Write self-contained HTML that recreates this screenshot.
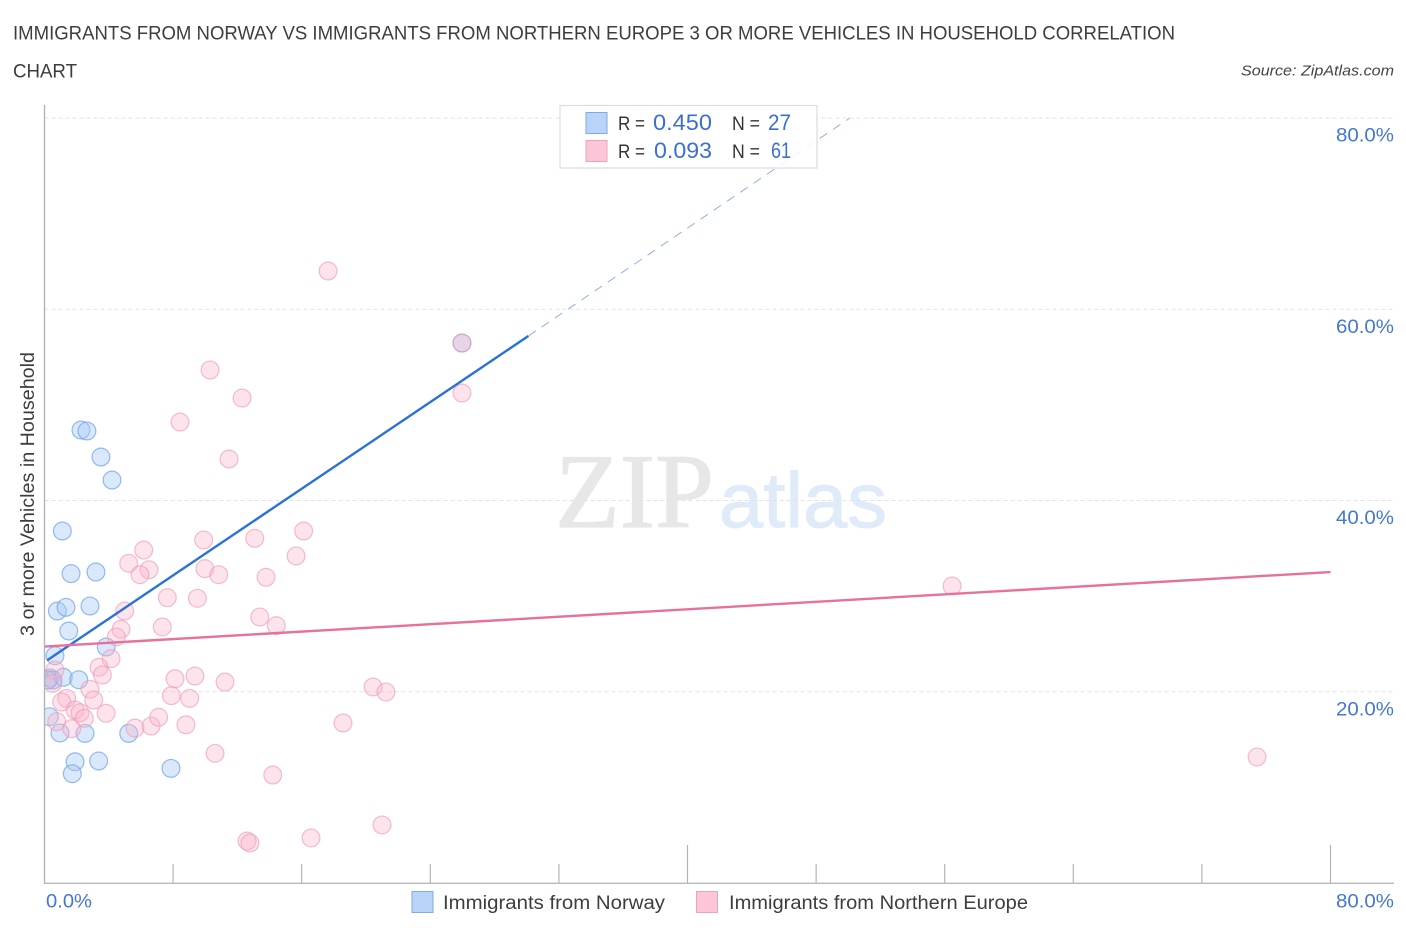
<!DOCTYPE html>
<html lang="en">
<head>
<meta charset="utf-8">
<title>Immigrants from Norway vs Immigrants from Northern Europe Correlation Chart</title>
<style>
html,body{margin:0;padding:0;background:#fff;width:1406px;height:930px;overflow:hidden}
svg{display:block}
text{font-family:"Liberation Sans",sans-serif}
</style>
</head>
<body>
<svg id="chart" width="1406" height="930" viewBox="0 0 1406 930" xmlns="http://www.w3.org/2000/svg">
  <defs><clipPath id="plot-clip"><rect x="44.5" y="100" width="1350" height="783"/></clipPath></defs>
  <rect width="1406" height="930" fill="#fff"/>
  <text x="13" y="39.5" font-size="19" fill="#3d3d3d" textLength="1162" lengthAdjust="spacingAndGlyphs">IMMIGRANTS FROM NORWAY VS IMMIGRANTS FROM NORTHERN EUROPE 3 OR MORE VEHICLES IN HOUSEHOLD CORRELATION</text>
  <text x="13" y="77.5" font-size="19" fill="#3d3d3d" textLength="64" lengthAdjust="spacingAndGlyphs">CHART</text>
  <text x="1241" y="75.5" font-size="15" font-style="italic" fill="#444" textLength="153" lengthAdjust="spacingAndGlyphs">Source: ZipAtlas.com</text>

  <g>
    <text x="555" y="527" font-size="106" fill="#e7e7e7" stroke="#e7e7e7" stroke-width="1.2" textLength="159" lengthAdjust="spacingAndGlyphs" style="font-family:'Liberation Serif',serif">ZIP</text>
    <text x="719" y="527" font-size="78" fill="#e0ebfa" stroke="#e0ebfa" stroke-width="1" textLength="168" lengthAdjust="spacingAndGlyphs">atlas</text>
  </g>

  <g id="grid"></g>
  <g id="points" clip-path="url(#plot-clip)"></g>
  <g id="lines"></g>
  <g id="axes"></g>
  <g id="ylabels"></g>

  <text transform="translate(34,636) rotate(-90)" font-size="19" fill="#3d3d3d" textLength="284" lengthAdjust="spacingAndGlyphs">3 or more Vehicles in Household</text>
  <text x="46" y="907.5" font-size="19" fill="#4477d4" textLength="46" lengthAdjust="spacingAndGlyphs">0.0%</text>
  <text x="1336" y="907.5" font-size="19" fill="#4477d4" textLength="58" lengthAdjust="spacingAndGlyphs">80.0%</text>

  <g>
    <rect x="560" y="105.5" width="257" height="62.5" fill="#fff" fill-opacity="0.88" stroke="#dcdcdc" stroke-width="1.2"/>
    <rect x="586" y="112.5" width="21" height="21" fill="#b9d4f9" stroke="#7faae6" stroke-width="1"/>
    <rect x="586" y="140.5" width="21" height="21" fill="#fdc6d8" stroke="#eea3bc" stroke-width="1"/>
    <text x="618" y="130" font-size="19" fill="#333" textLength="27" lengthAdjust="spacingAndGlyphs">R =</text>
    <text x="653" y="130" font-size="22" fill="#3b6fd1" textLength="59" lengthAdjust="spacingAndGlyphs">0.450</text>
    <text x="732" y="130" font-size="19" fill="#333" textLength="28" lengthAdjust="spacingAndGlyphs">N =</text>
    <text x="768" y="130" font-size="22" fill="#3b6fd1" textLength="23" lengthAdjust="spacingAndGlyphs">27</text>
    <text x="618" y="158" font-size="19" fill="#333" textLength="27" lengthAdjust="spacingAndGlyphs">R =</text>
    <text x="654" y="158" font-size="22" fill="#3b6fd1" textLength="58" lengthAdjust="spacingAndGlyphs">0.093</text>
    <text x="732" y="158" font-size="19" fill="#333" textLength="28" lengthAdjust="spacingAndGlyphs">N =</text>
    <text x="771" y="158" font-size="22" fill="#3b6fd1" textLength="20" lengthAdjust="spacingAndGlyphs">61</text>
  </g>

  <g>
    <rect x="412" y="891.5" width="21" height="21" fill="#b9d4f9" stroke="#7faae6" stroke-width="1"/>
    <text x="443" y="909" font-size="19" fill="#3d3d3d" textLength="222" lengthAdjust="spacingAndGlyphs">Immigrants from Norway</text>
    <rect x="696.5" y="891.5" width="21" height="21" fill="#fdc6d8" stroke="#eea3bc" stroke-width="1"/>
    <text x="729" y="909" font-size="19" fill="#3d3d3d" textLength="299" lengthAdjust="spacingAndGlyphs">Immigrants from Northern Europe</text>
  </g>
</svg>
<script>
const yTickValues = [20, 40, 60, 80];
const yTickLabels = ["20.0%", "40.0%", "60.0%", "80.0%"];
const xTickValues = [8, 16, 24, 32, 40, 48, 56, 64, 72, 80];
const xMajorTicks = [40, 80];

const norwayX = [1.11,1.65,3.20,0.80,1.34,2.83,1.51,3.84,0.65,0.34,0.53,0.22,1.17,2.13,0.30,0.96,2.52,5.24,1.90,3.37,1.73,7.87,2.27,2.64,3.51,4.20,25.97];
const norwayY = [36.81,32.35,32.52,28.44,28.83,28.97,26.35,24.68,23.77,21.44,21.23,21.23,21.51,21.26,17.39,15.69,15.65,15.65,12.68,12.76,11.43,11.99,47.37,47.27,44.55,42.14,56.47];

const europeX = [6.17,5.24,6.50,5.94,9.90,9.98,10.84,13.08,13.78,16.12,15.65,7.64,9.51,7.33,4.99,4.76,4.47,13.39,14.42,4.14,3.39,3.60,8.12,9.36,11.23,2.83,1.38,3.06,7.89,9.03,1.07,1.90,2.21,2.48,3.83,0.76,1.69,5.63,6.63,7.10,8.80,10.61,14.20,0.65,0.51,17.64,10.30,12.29,25.97,8.43,11.48,56.46,75.43,20.44,21.24,18.57,21.00,16.58,12.60,12.78,25.97];
const europeY = [34.82,33.43,32.76,32.24,35.87,32.87,32.24,36.05,31.97,36.81,34.20,29.84,29.77,26.77,28.44,26.53,25.73,27.82,26.91,23.46,22.56,21.75,21.36,21.65,21.02,20.26,19.31,19.14,19.59,19.31,18.93,18.09,17.81,17.22,17.75,16.87,16.14,16.21,16.42,17.33,16.55,13.56,11.29,22.27,20.88,64.00,53.65,50.72,51.24,48.21,44.34,31.06,13.18,20.50,19.97,16.73,6.07,4.71,4.39,4.18,56.47];

const norwaySolidTrendX = [0.17, 30.1];
const norwaySolidTrendY = [23.3, 57.2];
const norwayDashedTrendX = [30.1, 50.1];
const norwayDashedTrendY = [57.2, 80];
const europeTrendX = [0, 80];
const europeTrendY = [24.73, 32.52];

const SVGNS = 'http://www.w3.org/2000/svg';
function xScale(v) { return 44.5 + v * 16.075; }
function yScale(v) { return 883 - v * 9.5625; }
function make(tag, attrs, parent) {
  const el = document.createElementNS(SVGNS, tag);
  for (const k in attrs) el.setAttribute(k, attrs[k]);
  parent.appendChild(el);
  return el;
}

const gridGroup = document.getElementById('grid');
const axesGroup = document.getElementById('axes');
const labelGroup = document.getElementById('ylabels');
const pointGroup = document.getElementById('points');
const lineGroup = document.getElementById('lines');

yTickValues.forEach(function (v, i) {
  const gl = make('line', {x1: 44.5, x2: 1394, y1: yScale(v), y2: yScale(v), stroke: '#e2e2e2', 'stroke-width': 1, 'stroke-dasharray': '4 3'}, gridGroup);
  
  
  const t = make('text', {x: 1336, y: yScale(v) + 23.5, 'font-size': 19, fill: '#4477d4', textLength: 58, lengthAdjust: 'spacingAndGlyphs'}, labelGroup);
  
  
  t.textContent = yTickLabels[i];
});

const yAxis = make('line', {x1: 44.5, x2: 44.5, y1: 105, y2: 883.5, stroke: '#b4b4b4', 'stroke-width': 1.4}, axesGroup);


const xAxis = make('line', {x1: 44, x2: 1394, y1: 883.3, y2: 883.3, stroke: '#b9b9b9', 'stroke-width': 1.4}, axesGroup);


xTickValues.forEach(function (v) {
  const top = xMajorTicks.indexOf(v) >= 0 ? 845 : 864;
  const tick = make('line', {x1: xScale(v), x2: xScale(v), y1: top, y2: 883, stroke: '#b4b4b4', 'stroke-width': 1.2}, axesGroup);
  
  
});

norwayX.forEach(function (v, i) {
  const c = make('circle', {cx: xScale(v), cy: yScale(norwayY[i]), r: 8.9, fill: '#a8c9f5', 'fill-opacity': 0.42, stroke: '#6a9fe4', 'stroke-opacity': 0.7, 'stroke-width': 1.2}, pointGroup);
  
  
});
europeX.forEach(function (v, i) {
  const c = make('circle', {cx: xScale(v), cy: yScale(europeY[i]), r: 8.9, fill: '#fbb6cc', 'fill-opacity': 0.38, stroke: '#ee9ab6', 'stroke-opacity': 0.65, 'stroke-width': 1.2}, pointGroup);
  
  
});

const blueSolid = make('line', {x1: xScale(norwaySolidTrendX[0]), y1: yScale(norwaySolidTrendY[0]), x2: xScale(norwaySolidTrendX[1]), y2: yScale(norwaySolidTrendY[1]), stroke: '#2a72d8', 'stroke-width': 2.4}, lineGroup);


const blueDash = make('line', {x1: xScale(norwayDashedTrendX[0]), y1: yScale(norwayDashedTrendY[0]), x2: xScale(norwayDashedTrendX[1]), y2: yScale(norwayDashedTrendY[1]), stroke: '#8fb0e4', 'stroke-width': 1, 'stroke-dasharray': '9 7'}, lineGroup);


const pinkLine = make('line', {x1: xScale(europeTrendX[0]), y1: yScale(europeTrendY[0]), x2: xScale(europeTrendX[1]), y2: yScale(europeTrendY[1]), stroke: '#e8709c', 'stroke-width': 2.4}, lineGroup);


</script>
</body>
</html>
